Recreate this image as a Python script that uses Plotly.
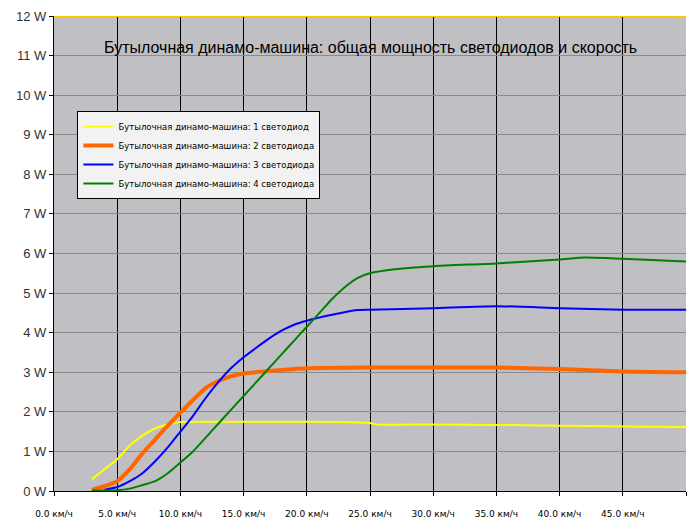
import plotly.graph_objects as go

x1 = [3, 4, 5, 6, 7, 8, 9, 10, 12, 15, 20, 25, 25.5, 30, 35, 40, 45, 50]
y1 = [0.3, 0.55, 0.8, 1.15, 1.4, 1.58, 1.68, 1.74, 1.75, 1.75, 1.75, 1.72, 1.68, 1.68, 1.67, 1.65, 1.63, 1.62]
x2 = [3, 4, 5, 6, 7, 8, 9, 10, 11, 12, 13, 14, 15, 17, 20, 25, 30, 35, 40, 45, 50]
y2 = [0.03, 0.12, 0.25, 0.55, 0.95, 1.3, 1.65, 1.98, 2.3, 2.6, 2.78, 2.9, 2.97, 3.03, 3.1, 3.12, 3.12, 3.12, 3.08, 3.02, 3.0]
x3 = [4, 5, 6, 7, 8, 9, 10, 11, 12, 13, 14, 15, 16, 17, 18, 19, 20, 22, 24, 25, 30, 35, 40, 45, 50]
y3 = [0.03, 0.1, 0.25, 0.45, 0.75, 1.1, 1.5, 1.9, 2.35, 2.75, 3.1, 3.38, 3.62, 3.85, 4.05, 4.2, 4.3, 4.45, 4.57, 4.58, 4.62, 4.67, 4.62, 4.58, 4.58]
x4 = [3, 5, 6, 7, 8, 9, 10, 11, 12, 13, 14, 15, 16, 17, 18, 19, 20, 21, 22, 23, 24, 25, 27, 30, 35, 40, 42, 45, 50]
y4 = [0.01, 0.02, 0.06, 0.15, 0.25, 0.45, 0.72, 1.0, 1.35, 1.7, 2.05, 2.4, 2.75, 3.1, 3.45, 3.8, 4.15, 4.5, 4.85, 5.15, 5.38, 5.5, 5.6, 5.68, 5.75, 5.85, 5.9, 5.87, 5.8]
names = ["Бутылочная динамо-машина: 1 светодиод", "Бутылочная динамо-машина: 2 светодиода",
         "Бутылочная динамо-машина: 3 светодиода", "Бутылочная динамо-машина: 4 светодиода"]
colors = ["#FFFF00", "#FF6600", "#0000FF", "#008000"]
widths = [2, 4, 2, 2]
xtick_vals = [0, 5, 10, 15, 20, 25, 30, 35, 40, 45, 50]
xtick_text = [f"{v:.1f} км/ч" for v in xtick_vals]
ytick_vals = list(range(13))
ytick_text = [f"{v} W" for v in ytick_vals]

fig = go.Figure()
for xs, ys, n, c, w in zip([x1, x2, x3, x4], [y1, y2, y3, y4], names, colors, widths):
    fig.add_trace(go.Scatter(x=xs, y=ys, name=n, mode="lines",
                             line=dict(color=c, width=w, shape="spline", smoothing=0.6)))

fig.add_shape(type="line", xref="paper", yref="y", x0=0, x1=1, y0=12, y1=12, line=dict(color="#FFCC00", width=2))

fig.update_layout(
    width=696, height=531, margin=dict(l=46, r=18, t=8, b=48, autoexpand=False),
    paper_bgcolor="white", plot_bgcolor="#C0BFC4",
    font=dict(family="DejaVu Sans", color="black"),
    showlegend=True,
    legend=dict(x=0.037, y=0.8, xanchor="left", yanchor="top", bgcolor="#F2F2F2",
                bordercolor="black", borderwidth=1, font=dict(size=8.5), tracegroupgap=0, itemwidth=30),
    annotations=[dict(text="Бутылочная динамо-машина: общая мощность светодиодов и скорость",
                      xref="paper", yref="paper", x=0.5, y=0.955, showarrow=False,
                      font=dict(size=16, family="Liberation Sans"))],
    xaxis=dict(range=[0, 50], tickvals=xtick_vals, ticktext=xtick_text, showgrid=True, automargin=False,
               gridcolor="black", gridwidth=1, showline=True, linecolor="black", linewidth=1,
               ticks="outside", ticklen=4, tickcolor="black", tickfont=dict(size=9),
               ticklabelstandoff=10, zeroline=False),
    yaxis=dict(range=[0, 12], tickvals=ytick_vals, ticktext=ytick_text, showgrid=True, automargin=False,
               gridcolor="#8C8C8C", gridwidth=1, showline=True, linecolor="black", linewidth=1,
               ticks="outside", ticklen=4, tickcolor="black", tickfont=dict(size=13, family="Liberation Sans", color="#333"),
               zeroline=False),
)
fig.write_html("out.html")
